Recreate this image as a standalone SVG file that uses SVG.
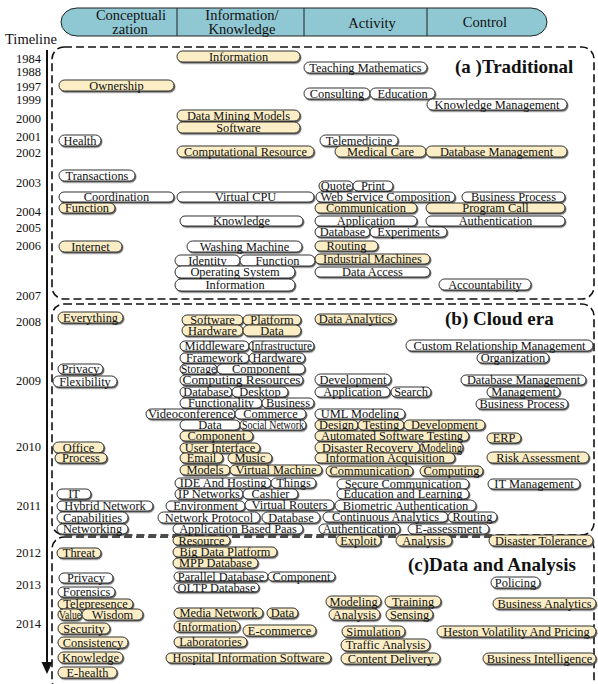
<svg xmlns="http://www.w3.org/2000/svg" width="598" height="684" viewBox="0 0 598 684">
<defs>
<filter id="sh" x="-10%" y="-30%" width="120%" height="180%"><feDropShadow dx="1" dy="1.3" stdDeviation="0.35" flood-color="#4a4a4a" flood-opacity="0.85"/></filter>
<style>
.n rect{stroke:#1e1e1e;stroke-width:0.9;filter:url(#sh)}
.c rect{fill:#fbeec6}
.w rect{fill:#ffffff}
.n text{font-family:"Liberation Serif","Times New Roman",serif;font-size:12.4px;text-anchor:middle;fill:#111}
.yr{font-family:"Liberation Serif",serif;font-size:12.5px;text-anchor:end;fill:#111}
.hd{font-family:"Liberation Serif",serif;font-size:14.5px;text-anchor:middle;fill:#111}
.ttl{font-family:"Liberation Serif",serif;font-size:19px;font-weight:bold;fill:#111}
.box{fill:none;stroke:#111;stroke-width:1.6;stroke-dasharray:8 4}
</style>
</defs>
<rect width="598" height="684" fill="#fff"/>
<g id="header">
<rect x="61" y="8" width="486" height="28" rx="16" ry="14" fill="#8fc7d3" stroke="#222" stroke-width="1"/>
<line x1="177" y1="8" x2="177" y2="36" stroke="#222"/>
<line x1="304" y1="8" x2="304" y2="36" stroke="#222"/>
<line x1="427" y1="8" x2="427" y2="36" stroke="#222"/>
<text class="hd" x="131" y="20">Conceptuali</text>
<text class="hd" x="130" y="34">zation</text>
<text class="hd" x="242" y="20">Information/</text>
<text class="hd" x="242" y="34">Knowledge</text>
<text class="hd" x="372" y="28">Activity</text>
<text class="hd" x="485" y="27">Control</text>
</g>
<g id="regions">
<rect class="box" x="52" y="47" width="542" height="252" rx="12"/>
<rect class="box" x="52" y="304" width="542" height="231" rx="12"/>
<rect class="box" x="52" y="537" width="542" height="155" rx="12"/>
<text class="ttl" x="455" y="73">(a )Traditional</text>
<text class="ttl" x="445" y="325">(b) Cloud era</text>
<text class="ttl" x="408" y="571">(c)Data and Analysis</text>
</g>
<g id="timeline-labels">
<text x="5" y="44" font-family="Liberation Serif,serif" font-size="14.5" fill="#111">Timeline</text>
<text class="yr" x="41" y="63">1984</text>
<text class="yr" x="41" y="76">1988</text>
<text class="yr" x="41" y="91">1997</text>
<text class="yr" x="41" y="104">1999</text>
<text class="yr" x="41" y="123">2000</text>
<text class="yr" x="41" y="141">2001</text>
<text class="yr" x="41" y="157">2002</text>
<text class="yr" x="41" y="187">2003</text>
<text class="yr" x="41" y="216">2004</text>
<text class="yr" x="41" y="232">2005</text>
<text class="yr" x="41" y="250">2006</text>
<text class="yr" x="41" y="300">2007</text>
<text class="yr" x="41" y="326">2008</text>
<text class="yr" x="41" y="385">2009</text>
<text class="yr" x="41" y="451">2010</text>
<text class="yr" x="41" y="510">2011</text>
<text class="yr" x="41" y="557">2012</text>
<text class="yr" x="41" y="589">2013</text>
<text class="yr" x="41" y="628">2014</text>
</g>
<g id="connectors">
<line x1="47" y1="50" x2="47" y2="663" stroke="#111" stroke-width="2"/>
<polygon points="41.5,662 52.5,662 47,674" fill="#111"/>
</g>
<g id="nodes">
<g id="a01" class="n c"><rect x="177" y="51" width="123" height="11" rx="5.5"/><text x="238.5" y="60.7">Information</text></g>
<g id="a02" class="n w"><rect x="304" y="62" width="123" height="11" rx="5.5"/><text x="365.5" y="71.7">Teaching Mathematics</text></g>
<g id="a03" class="n c"><rect x="59" y="80" width="115" height="11" rx="5.5"/><text x="116.5" y="89.7">Ownership</text></g>
<g id="a04" class="n w"><rect x="304" y="88" width="66" height="11" rx="5.5"/><text x="337" y="97.7">Consulting</text></g>
<g id="a05" class="n w"><rect x="370" y="88" width="65" height="11" rx="5.5"/><text x="402.5" y="97.7">Education</text></g>
<g id="a06" class="n w"><rect x="427" y="99" width="140" height="11" rx="5.5"/><text x="497" y="108.7">Knowledge Management</text></g>
<g id="a07" class="n c"><rect x="177" y="110" width="123" height="11" rx="5.5"/><text x="238.5" y="119.7">Data Mining Models</text></g>
<g id="a08" class="n c"><rect x="177" y="122" width="123" height="11" rx="5.5"/><text x="238.5" y="131.7">Software</text></g>
<g id="a09" class="n w"><rect x="59" y="135" width="42" height="11" rx="5.5"/><text x="80" y="144.7">Health</text></g>
<g id="a10" class="n w"><rect x="320" y="135" width="78" height="11" rx="5.5"/><text x="359" y="144.7">Telemedicine</text></g>
<g id="a11" class="n c"><rect x="177" y="146" width="137" height="11" rx="5.5"/><text x="245.5" y="155.7">Computational Resource</text></g>
<g id="a12" class="n c"><rect x="335" y="146" width="91" height="11" rx="5.5"/><text x="380.5" y="155.7">Medical Care</text></g>
<g id="a13" class="n c"><rect x="426" y="146" width="141" height="11" rx="5.5"/><text x="496.5" y="155.7">Database Management</text></g>
<g id="a14" class="n w"><rect x="59" y="170" width="76" height="11" rx="5.5"/><text x="97" y="179.7">Transactions</text></g>
<g id="a15" class="n w"><rect x="319" y="181" width="34" height="10" rx="5"/><text x="336" y="190.2">Quote</text></g>
<g id="a16" class="n w"><rect x="353" y="181" width="40" height="10" rx="5"/><text x="373" y="190.2">Print</text></g>
<g id="a17" class="n w"><rect x="59" y="192" width="115" height="10" rx="5"/><text x="116.5" y="201.2">Coordination</text></g>
<g id="a18" class="n w"><rect x="177" y="192" width="137" height="10" rx="5"/><text x="245.5" y="201.2">Virtual CPU</text></g>
<g id="a19" class="n w"><rect x="316" y="192" width="139" height="10" rx="5"/><text x="385.5" y="201.2">Web Service Composition</text></g>
<g id="a20" class="n w"><rect x="462" y="192" width="103" height="10" rx="5"/><text x="513.5" y="201.2">Business Process</text></g>
<g id="a21" class="n c"><rect x="59" y="203" width="56" height="10" rx="5"/><text x="87" y="212.2">Function</text></g>
<g id="a22" class="n c"><rect x="315" y="203" width="102" height="10" rx="5"/><text x="366" y="212.2">Communication</text></g>
<g id="a23" class="n c"><rect x="426" y="203" width="139" height="10" rx="5"/><text x="495.5" y="212.2">Program Call</text></g>
<g id="a24" class="n w"><rect x="180" y="216" width="123" height="10" rx="5"/><text x="241.5" y="225.2">Knowledge</text></g>
<g id="a25" class="n w"><rect x="315" y="216" width="102" height="10" rx="5"/><text x="366" y="225.2">Application</text></g>
<g id="a26" class="n w"><rect x="426" y="216" width="139" height="10" rx="5"/><text x="495.5" y="225.2">Authentication</text></g>
<g id="a27" class="n w"><rect x="315" y="227" width="55" height="10" rx="5"/><text x="342.5" y="236.2">Database</text></g>
<g id="a28" class="n w"><rect x="370" y="227" width="77" height="10" rx="5"/><text x="408.5" y="236.2">Experiments</text></g>
<g id="a29" class="n c"><rect x="59" y="241" width="63" height="11" rx="5.5"/><text x="90.5" y="250.7">Internet</text></g>
<g id="a30" class="n w"><rect x="187" y="241" width="115" height="11" rx="5.5"/><text x="244.5" y="250.7">Washing Machine</text></g>
<g id="a31" class="n c"><rect x="315" y="241" width="63" height="10" rx="5"/><text x="346.5" y="250.2">Routing</text></g>
<g id="a32" class="n w"><rect x="175" y="255" width="65" height="11" rx="5.5"/><text x="207.5" y="264.7">Identity</text></g>
<g id="a33" class="n w"><rect x="240" y="255" width="75" height="11" rx="5.5"/><text x="277.5" y="264.7">Function</text></g>
<g id="a34" class="n c"><rect x="315" y="254" width="115" height="10" rx="5"/><text x="372.5" y="263.2">Industrial Machines</text></g>
<g id="a35" class="n w"><rect x="175" y="266" width="120" height="12" rx="6"/><text x="235" y="276.2">Operating System</text></g>
<g id="a36" class="n w"><rect x="315" y="267" width="115" height="10" rx="5"/><text x="372.5" y="276.2">Data Access</text></g>
<g id="a37" class="n w"><rect x="175" y="279" width="120" height="12" rx="6"/><text x="235" y="289.2">Information</text></g>
<g id="a38" class="n w"><rect x="439" y="279" width="92" height="11" rx="5.5"/><text x="485" y="288.7">Accountability</text></g>

<g id="b01" class="n c"><rect x="58" y="312" width="65" height="11" rx="5.5"/><text x="90.5" y="321.7">Everything</text></g>
<g id="b02" class="n c"><rect x="182" y="315" width="61" height="10" rx="5"/><text x="212.5" y="324.2">Software</text></g>
<g id="b03" class="n c"><rect x="243" y="315" width="58" height="10" rx="5"/><text x="272" y="324.2">Platform</text></g>
<g id="b04" class="n c"><rect x="182" y="325" width="61" height="11" rx="5.5"/><text x="212.5" y="334.7">Hardware</text></g>
<g id="b05" class="n c"><rect x="243" y="325" width="58" height="11" rx="5.5"/><text x="272" y="334.7">Data</text></g>
<g id="b06" class="n c"><rect x="315" y="314" width="81" height="10" rx="5"/><text x="355.5" y="323.2">Data Analytics</text></g>
<g id="b07" class="n w"><rect x="180" y="341" width="69" height="10" rx="5"/><text x="214.5" y="350.2">Middleware</text></g>
<g id="b08" class="n w"><rect x="249" y="341" width="65" height="10" rx="5"/><text x="281.5" y="350.2" textLength="61" lengthAdjust="spacingAndGlyphs">Infrastructure</text></g>
<g id="b09" class="n w"><rect x="406" y="340" width="187" height="11" rx="5.5"/><text x="499.5" y="349.7">Custom Relationship Management</text></g>
<g id="b10" class="n w"><rect x="180" y="353" width="69" height="10" rx="5"/><text x="214.5" y="362.2">Framework</text></g>
<g id="b11" class="n w"><rect x="249" y="353" width="56" height="10" rx="5"/><text x="277" y="362.2">Hardware</text></g>
<g id="b12" class="n w"><rect x="477" y="353" width="72" height="10" rx="5"/><text x="513" y="362.2">Organization</text></g>
<g id="b13" class="n w"><rect x="58" y="364" width="45" height="10" rx="5"/><text x="80.5" y="373.2">Privacy</text></g>
<g id="b14" class="n w"><rect x="180" y="364" width="37" height="10" rx="5"/><text x="198.5" y="373.2" textLength="35" lengthAdjust="spacingAndGlyphs">Storage</text></g>
<g id="b15" class="n w"><rect x="217" y="364" width="88" height="10" rx="5"/><text x="261" y="373.2">Component</text></g>
<g id="b16" class="n w"><rect x="53" y="376" width="64" height="11" rx="5.5"/><text x="85" y="385.7">Flexibility</text></g>
<g id="b17" class="n w"><rect x="180" y="375" width="123" height="10" rx="5"/><text x="241.5" y="384.2" textLength="118" lengthAdjust="spacingAndGlyphs">Computing Resources</text></g>
<g id="b18" class="n w"><rect x="315" y="374" width="76" height="11" rx="5.5"/><text x="353" y="383.7">Development</text></g>
<g id="b19" class="n w"><rect x="461" y="375" width="125" height="10" rx="5"/><text x="523.5" y="384.2">Database Management</text></g>
<g id="b20" class="n w"><rect x="180" y="387" width="52" height="10" rx="5"/><text x="206" y="396.2">Database</text></g>
<g id="b21" class="n w"><rect x="232" y="387" width="56" height="10" rx="5"/><text x="260" y="396.2">Desktop</text></g>
<g id="b22" class="n w"><rect x="315" y="387" width="75" height="10" rx="5"/><text x="352.5" y="396.2">Application</text></g>
<g id="b23" class="n w"><rect x="391" y="387" width="40" height="10" rx="5"/><text x="411" y="396.2">Search</text></g>
<g id="b24" class="n w"><rect x="487" y="387" width="73" height="10" rx="5"/><text x="523.5" y="396.2">Management</text></g>
<g id="b25" class="n w"><rect x="180" y="398" width="82" height="10" rx="5"/><text x="221" y="407.2">Functionality</text></g>
<g id="b26" class="n w"><rect x="262" y="398" width="52" height="10" rx="5"/><text x="288" y="407.2">Business</text></g>
<g id="b27" class="n w"><rect x="476" y="399" width="92" height="10" rx="5"/><text x="522" y="408.2">Business Process</text></g>
<g id="b28" class="n w"><rect x="146" y="409" width="89" height="10" rx="5"/><text x="190.5" y="418.2" textLength="85" lengthAdjust="spacingAndGlyphs">Videoconference</text></g>
<g id="b29" class="n w"><rect x="235" y="409" width="71" height="10" rx="5"/><text x="270.5" y="418.2">Commerce</text></g>
<g id="b30" class="n w"><rect x="315" y="409" width="90" height="10" rx="5"/><text x="360" y="418.2">UML Modeling</text></g>
<g id="b31" class="n w"><rect x="180" y="420" width="60" height="10" rx="5"/><text x="210" y="429.2">Data</text></g>
<g id="b32" class="n w"><rect x="240" y="420" width="66" height="10" rx="5"/><text x="273" y="429.2" textLength="62" lengthAdjust="spacingAndGlyphs">Social Network</text></g>
<g id="b33" class="n c"><rect x="315" y="420" width="43" height="10" rx="5"/><text x="336.5" y="429.2">Design</text></g>
<g id="b34" class="n c"><rect x="358" y="420" width="46" height="10" rx="5"/><text x="381" y="429.2">Testing</text></g>
<g id="b35" class="n c"><rect x="404" y="420" width="81" height="10" rx="5"/><text x="444.5" y="429.2">Development</text></g>
<g id="b36" class="n c"><rect x="180" y="431" width="73" height="10" rx="5"/><text x="216.5" y="440.2">Component</text></g>
<g id="b37" class="n c"><rect x="315" y="431" width="154" height="10" rx="5"/><text x="392" y="440.2">Automated Software Testing</text></g>
<g id="b38" class="n c"><rect x="487" y="433" width="34" height="10" rx="5"/><text x="504" y="442.2">ERP</text></g>
<g id="b39" class="n c"><rect x="53" y="442" width="51" height="11" rx="5.5"/><text x="78.5" y="451.7">Office</text></g>
<g id="b40" class="n c"><rect x="180" y="443" width="80" height="10" rx="5"/><text x="220" y="452.2">User Interface</text></g>
<g id="b41" class="n c"><rect x="315" y="442" width="105" height="11" rx="5.5"/><text x="367.5" y="451.7">Disaster Recovery</text></g>
<g id="b42" class="n c"><rect x="420" y="442" width="43" height="11" rx="5.5"/><text x="441.5" y="451.7" textLength="41" lengthAdjust="spacingAndGlyphs">Modeling</text></g>
<g id="b43" class="n c"><rect x="55" y="453" width="52" height="10" rx="5"/><text x="81" y="462.2">Process</text></g>
<g id="b44" class="n c"><rect x="180" y="453" width="43" height="10" rx="5"/><text x="201.5" y="462.2">Email</text></g>
<g id="b45" class="n c"><rect x="228" y="453" width="44" height="10" rx="5"/><text x="250" y="462.2">Music</text></g>
<g id="b46" class="n c"><rect x="315" y="453" width="140" height="10" rx="5"/><text x="385" y="462.2">Information Acquisition</text></g>
<g id="b47" class="n c"><rect x="487" y="452" width="102" height="11" rx="5.5"/><text x="538" y="461.7">Risk Assessment</text></g>
<g id="b48" class="n c"><rect x="180" y="465" width="50" height="10" rx="5"/><text x="205" y="474.2">Models</text></g>
<g id="b49" class="n c"><rect x="230" y="465" width="92" height="10" rx="5"/><text x="276" y="474.2">Virtual Machine</text></g>
<g id="b50" class="n c"><rect x="326" y="466" width="87" height="10" rx="5"/><text x="369.5" y="475.2">Communication</text></g>
<g id="b51" class="n c"><rect x="420" y="466" width="63" height="10" rx="5"/><text x="451.5" y="475.2">Computing</text></g>
<g id="b52" class="n w"><rect x="175" y="478" width="96" height="10" rx="5"/><text x="223" y="487.2">IDE And Hosting</text></g>
<g id="b53" class="n w"><rect x="271" y="478" width="45" height="10" rx="5"/><text x="293.5" y="487.2">Things</text></g>
<g id="b54" class="n w"><rect x="337" y="479" width="132" height="10" rx="5"/><text x="403" y="488.2">Secure Communication</text></g>
<g id="b55" class="n w"><rect x="488" y="479" width="92" height="10" rx="5"/><text x="534" y="488.2">IT Management</text></g>
<g id="b56" class="n w"><rect x="57" y="489" width="34" height="10" rx="5"/><text x="74" y="498.2">IT</text></g>
<g id="b57" class="n w"><rect x="175" y="489" width="68" height="10" rx="5"/><text x="209" y="498.2">IP Networks</text></g>
<g id="b58" class="n w"><rect x="243" y="489" width="55" height="10" rx="5"/><text x="270.5" y="498.2">Cashier</text></g>
<g id="b59" class="n w"><rect x="337" y="489" width="132" height="10" rx="5"/><text x="403" y="498.2">Education and Learning</text></g>
<g id="b60" class="n w"><rect x="57" y="501" width="96" height="10" rx="5"/><text x="105" y="510.2">Hybrid Network</text></g>
<g id="b61" class="n w"><rect x="166" y="501" width="79" height="10" rx="5"/><text x="205.5" y="510.2">Environment</text></g>
<g id="b62" class="n w"><rect x="245" y="500" width="89" height="10" rx="5"/><text x="289.5" y="509.2">Virtual Routers</text></g>
<g id="b63" class="n w"><rect x="335" y="500" width="141" height="11" rx="5.5"/><text x="405.5" y="509.7">Biometric Authentication</text></g>
<g id="b64" class="n w"><rect x="57" y="512" width="71" height="11" rx="5.5"/><text x="92.5" y="521.7">Capabilities</text></g>
<g id="b65" class="n w"><rect x="158" y="512" width="102" height="11" rx="5.5"/><text x="209" y="521.7">Network Protocol</text></g>
<g id="b66" class="n w"><rect x="262" y="512" width="58" height="11" rx="5.5"/><text x="291" y="521.7">Database</text></g>
<g id="b67" class="n w"><rect x="323" y="512" width="125" height="10" rx="5"/><text x="385.5" y="521.2">Continuous Analytics</text></g>
<g id="b68" class="n w"><rect x="448" y="512" width="49" height="10" rx="5"/><text x="472.5" y="521.2">Routing</text></g>
<g id="b69" class="n w"><rect x="57" y="524" width="71" height="10" rx="5"/><text x="92.5" y="533.2">Networking</text></g>
<g id="b70" class="n w"><rect x="173" y="524" width="130" height="10" rx="5"/><text x="238" y="533.2">Application Based Paas</text></g>
<g id="b71" class="n w"><rect x="319" y="524" width="81" height="10" rx="5"/><text x="359.5" y="533.2">Authentication</text></g>
<g id="b72" class="n w"><rect x="408" y="524" width="81" height="10" rx="5"/><text x="448.5" y="533.2">E-assessment</text></g>

<g id="c01" class="n c"><rect x="173" y="536" width="57" height="9" rx="4.5"/><text x="201.5" y="544.7">Resource</text></g>
<g id="c02" class="n c"><rect x="336" y="535" width="45" height="11" rx="5.5"/><text x="358.5" y="544.7">Exploit</text></g>
<g id="c03" class="n c"><rect x="396" y="535" width="56" height="11" rx="5.5"/><text x="424" y="544.7">Analysis</text></g>
<g id="c04" class="n c"><rect x="489" y="535" width="104" height="11" rx="5.5"/><text x="541" y="544.7">Disaster Tolerance</text></g>
<g id="c05" class="n c"><rect x="57" y="548" width="44" height="10" rx="5"/><text x="79" y="557.2">Threat</text></g>
<g id="c06" class="n c"><rect x="173" y="547" width="104" height="10" rx="5"/><text x="225" y="556.2">Big Data Platform</text></g>
<g id="c07" class="n c"><rect x="173" y="558" width="85" height="10" rx="5"/><text x="215.5" y="567.2">MPP Database</text></g>
<g id="c08" class="n w"><rect x="59" y="573" width="54" height="10" rx="5"/><text x="86" y="582.2">Privacy</text></g>
<g id="c09" class="n w"><rect x="174" y="572" width="94" height="9" rx="4.5"/><text x="221" y="580.7">Parallel Database</text></g>
<g id="c10" class="n w"><rect x="268" y="572" width="67" height="9" rx="4.5"/><text x="301.5" y="580.7">Component</text></g>
<g id="c11" class="n w"><rect x="491" y="577" width="49" height="11" rx="5.5"/><text x="515.5" y="586.7">Policing</text></g>
<g id="c12" class="n w"><rect x="174" y="583" width="85" height="9" rx="4.5"/><text x="216.5" y="591.7">OLTP Database</text></g>
<g id="c13" class="n w"><rect x="58" y="587" width="57" height="10" rx="5"/><text x="86.5" y="596.2">Forensics</text></g>
<g id="c14" class="n c"><rect x="58" y="599" width="75" height="10" rx="5"/><text x="95.5" y="608.2">Telepresence</text></g>
<g id="c15" class="n c"><rect x="326" y="596" width="55" height="11" rx="5.5"/><text x="353.5" y="605.7">Modeling</text></g>
<g id="c16" class="n c"><rect x="385" y="596" width="56" height="11" rx="5.5"/><text x="413" y="605.7">Training</text></g>
<g id="c17" class="n c"><rect x="493" y="598" width="103" height="11" rx="5.5"/><text x="544.5" y="607.7">Business Analytics</text></g>
<g id="c18" class="n c"><rect x="58" y="609" width="24" height="11" rx="5.5"/><text x="70" y="618.7" textLength="22" lengthAdjust="spacingAndGlyphs">Value</text></g>
<g id="c19" class="n c"><rect x="82" y="609" width="61" height="11" rx="5.5"/><text x="112.5" y="618.7">Wisdom</text></g>
<g id="c20" class="n c"><rect x="174" y="608" width="89" height="10" rx="5"/><text x="218.5" y="617.2">Media Network</text></g>
<g id="c21" class="n c"><rect x="267" y="608" width="31" height="10" rx="5"/><text x="282.5" y="617.2">Data</text></g>
<g id="c22" class="n c"><rect x="329" y="609" width="51" height="11" rx="5.5"/><text x="354.5" y="618.7">Analysis</text></g>
<g id="c23" class="n c"><rect x="386" y="609" width="47" height="11" rx="5.5"/><text x="409.5" y="618.7">Sensing</text></g>
<g id="c24" class="n c"><rect x="58" y="623" width="52" height="11" rx="5.5"/><text x="84" y="632.7">Security</text></g>
<g id="c25" class="n c"><rect x="174" y="621" width="66" height="11" rx="5.5"/><text x="207" y="630.7">Information</text></g>
<g id="c26" class="n c"><rect x="243" y="625" width="73" height="11" rx="5.5"/><text x="279.5" y="634.7">E-commerce</text></g>
<g id="c27" class="n c"><rect x="342" y="626" width="63" height="11" rx="5.5"/><text x="373.5" y="635.7">Simulation</text></g>
<g id="c28" class="n c"><rect x="437" y="626" width="159" height="11" rx="5.5"/><text x="516.5" y="635.7">Heston Volatility And Pricing</text></g>
<g id="c29" class="n c"><rect x="58" y="637" width="70" height="11" rx="5.5"/><text x="93" y="646.7">Consistency</text></g>
<g id="c30" class="n c"><rect x="174" y="637" width="73" height="10" rx="5"/><text x="210.5" y="646.2">Laboratories</text></g>
<g id="c31" class="n c"><rect x="341" y="639" width="89" height="12" rx="6"/><text x="385.5" y="649.2">Traffic Analysis</text></g>
<g id="c32" class="n c"><rect x="58" y="652" width="65" height="11" rx="5.5"/><text x="90.5" y="661.7">Knowledge</text></g>
<g id="c33" class="n c"><rect x="166" y="653" width="165" height="10" rx="5"/><text x="248.5" y="662.2">Hospital Information Software</text></g>
<g id="c34" class="n c"><rect x="341" y="653" width="99" height="11" rx="5.5"/><text x="390.5" y="662.7">Content Delivery</text></g>
<g id="c35" class="n c"><rect x="483" y="653" width="113" height="11" rx="5.5"/><text x="539.5" y="662.7">Business Intelligence</text></g>
<g id="c36" class="n c"><rect x="58" y="667" width="59" height="11" rx="5.5"/><text x="87.5" y="676.7">E-health</text></g>
</g>
</svg>
